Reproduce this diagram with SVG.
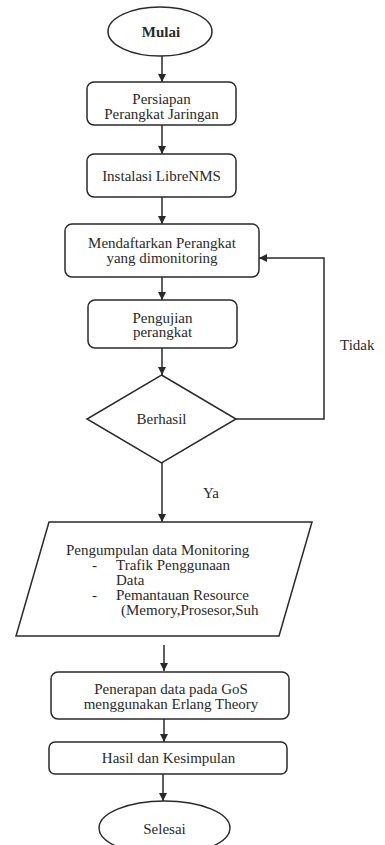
<svg xmlns="http://www.w3.org/2000/svg" width="385" height="845" viewBox="0 0 385 845">
<style>
.s{fill:#fff;stroke:#2a2a2a;stroke-width:1.5}
.t{font-family:"Liberation Serif","Times New Roman",serif;font-size:15px;fill:#2a2a2a}
.m{text-anchor:middle}
.c{fill:none;stroke:#2a2a2a;stroke-width:1.5}
</style>
<defs>
<marker id="ah" markerUnits="userSpaceOnUse" markerWidth="10" markerHeight="10" refX="8" refY="4" orient="auto">
<path d="M0,0 L8,4 L0,8 Z" fill="#2a2a2a"/>
</marker>
</defs>
<rect width="385" height="845" fill="#fff"/>
<g id="connectors">
<line class="c" x1="162" y1="56" x2="162" y2="82" marker-end="url(#ah)"/>
<line class="c" x1="162" y1="125" x2="162" y2="154" marker-end="url(#ah)"/>
<line class="c" x1="162" y1="197" x2="162" y2="224" marker-end="url(#ah)"/>
<line class="c" x1="162" y1="277" x2="162" y2="300" marker-end="url(#ah)"/>
<line class="c" x1="162" y1="348" x2="162" y2="375" marker-end="url(#ah)"/>
<line class="c" x1="162" y1="463" x2="162" y2="522" marker-end="url(#ah)"/>
<line class="c" x1="164" y1="645" x2="164" y2="671" marker-end="url(#ah)"/>
<line class="c" x1="164" y1="719" x2="164" y2="742" marker-end="url(#ah)"/>
<line class="c" x1="163" y1="774" x2="163" y2="801" marker-end="url(#ah)"/>
<polyline class="c" points="236,419 324,419 324,258 259,258" marker-end="url(#ah)"/>
<text class="t" x="340" y="350">Tidak</text>
<text class="t" x="203" y="498">Ya</text>
</g>
<g id="mulai">
<ellipse class="s" cx="160" cy="31.5" rx="52" ry="24.5"/>
<text class="t m" x="161" y="37" font-weight="bold">Mulai</text>
</g>
<g id="persiapan">
<rect class="s" x="87" y="82" width="149" height="43" rx="7"/>
<text class="t m" x="161.5" y="103.5">Persiapan</text>
<text class="t m" x="161.5" y="118.5">Perangkat Jaringan</text>
</g>
<g id="instalasi">
<rect class="s" x="87" y="154" width="149" height="43" rx="7"/>
<text class="t m" x="161.5" y="181">Instalasi LibreNMS</text>
</g>
<g id="mendaftarkan">
<rect class="s" x="65" y="224" width="194" height="53" rx="7"/>
<text class="t m" x="162" y="248">Mendaftarkan Perangkat</text>
<text class="t m" x="162" y="263">yang dimonitoring</text>
</g>
<g id="pengujian">
<rect class="s" x="88" y="300" width="149" height="48" rx="7"/>
<text class="t m" x="162.5" y="322.5">Pengujian</text>
<text class="t m" x="162.5" y="337">perangkat</text>
</g>
<g id="berhasil">
<polygon class="s" points="161.5,375 236,419 161.5,463 87,419"/>
<text class="t m" x="161.5" y="424">Berhasil</text>
</g>
<g id="pengumpulan">
<polygon class="s" points="49,522 312,522 279,636 16,636"/>
<text class="t" x="66" y="555">Pengumpulan data Monitoring</text>
<text class="t" x="92" y="570">-</text>
<text class="t" x="116" y="570">Trafik Penggunaan</text>
<text class="t" x="116" y="585">Data</text>
<text class="t" x="92" y="600">-</text>
<text class="t" x="116" y="600">Pemantauan Resource</text>
<text class="t" x="121" y="615">(Memory,Prosesor,Suh</text>
</g>
<g id="penerapan">
<rect class="s" x="51" y="672" width="238" height="47" rx="7"/>
<text class="t m" x="171" y="694">Penerapan data pada GoS</text>
<text class="t m" x="171" y="709">menggunakan Erlang Theory</text>
</g>
<g id="hasil">
<rect class="s" x="49" y="742" width="238" height="32" rx="6"/>
<text class="t m" x="168.5" y="763">Hasil dan Kesimpulan</text>
</g>
<g id="selesai">
<ellipse class="s" cx="164.5" cy="828" rx="65.5" ry="27"/>
<text class="t m" x="164.5" y="834">Selesai</text>
</g>
</svg>
